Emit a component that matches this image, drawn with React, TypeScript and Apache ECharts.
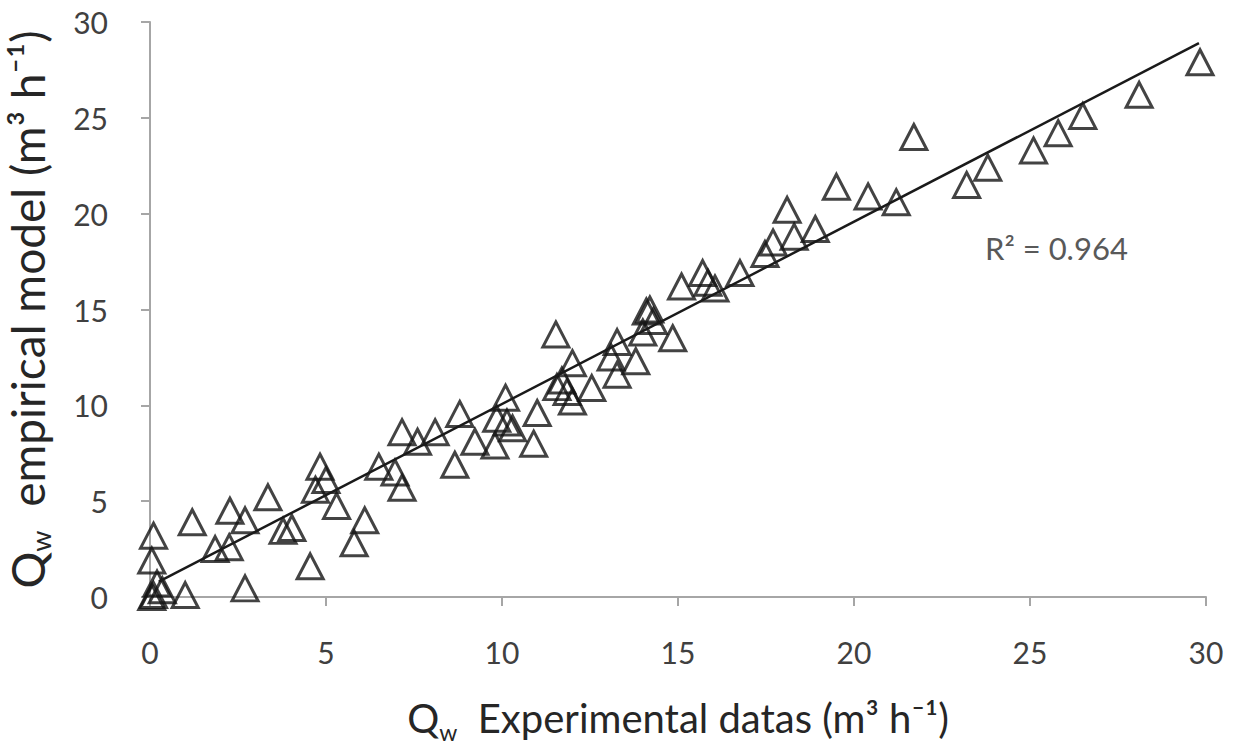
import React, { useEffect, useRef } from "react";
import * as echarts from "echarts";

// Experimental (x) vs empirical model (y), m3 h-1
const expValues: number[] = [
  0.05, 0.1, 0.2, 0.35, 0.05, 0.1, 1.0, 1.2, 1.85, 2.25, 2.27, 2.7, 2.7, 3.35, 3.78, 4.03,
  4.55, 4.83, 4.7, 5.0, 5.3, 5.8, 6.1, 6.5, 6.96, 7.16, 7.16, 7.6, 8.1, 8.8, 8.66, 9.23,
  9.8, 9.85, 10.1, 10.14, 10.3, 10.9, 11.0, 11.53, 11.56, 11.7, 11.85, 12.0, 12.0, 12.55,
  13.1, 13.27, 13.27, 13.8, 14.0, 14.1, 14.3, 14.2, 14.85, 15.1, 15.7, 15.85, 16.05, 16.76,
  17.47, 17.7, 18.1, 18.3, 18.9, 19.5, 20.4, 21.2, 21.7, 23.2, 23.8, 25.1, 25.8, 26.5,
  28.1, 29.83,
];
const modelValues: number[] = [
  0.0, 0.1, 0.7, 0.35, 1.9, 3.2, 0.1, 3.9, 2.5, 2.6, 4.5, 4.0, 0.45, 5.2, 3.45, 3.6,
  1.6, 6.8, 5.6, 6.1, 4.75, 2.8, 4.0, 6.8, 6.5, 5.7, 8.6, 8.1, 8.6, 9.55, 6.9, 8.1,
  7.9, 9.3, 10.4, 9.1, 8.8, 8.0, 9.6, 13.7, 10.95, 11.3, 10.7, 12.2, 10.2, 10.9,
  12.5, 11.6, 13.3, 12.3, 13.8, 14.9, 14.4, 15.0, 13.5, 16.2, 16.9, 16.4, 16.1, 16.9,
  17.9, 18.5, 20.2, 18.8, 19.2, 21.4, 20.9, 20.6, 24.0, 21.5, 22.4, 23.3, 24.2, 25.1,
  26.2, 27.9,
];
// Linear trendline end points
const trendX: number[] = [0.25, 29.8];
const trendY: number[] = [0.8, 28.9];
const rSquared = "0.964";
const axisTicks: number[] = [0, 5, 10, 15, 20, 25, 30];

const FONT = "Lato, 'Open Sans', sans-serif";

export default function App() {
  const ref = useRef<HTMLDivElement>(null);
  useEffect(() => {
    if (!ref.current) return;
    const chart = echarts.init(ref.current, undefined, { renderer: "svg" });
    const points = expValues.map((x, i) => [x, modelValues[i]]);
    const trend = trendX.map((x, i) => [x, trendY[i]]);
    const axisCommon = {
      type: "value" as const,
      min: axisTicks[0],
      max: axisTicks[axisTicks.length - 1],
      interval: 5,
      splitLine: { show: false },
      axisLine: { show: true, lineStyle: { color: "#a6a6a6", width: 2 } },
      axisTick: { show: true, length: 9, lineStyle: { color: "#a6a6a6", width: 2 } },
    };
    chart.setOption({
      animation: false,
      backgroundColor: "#ffffff",
      grid: {
        left: 150,
        right: 28,
        top: 22,
        bottom: 150,
        containLabel: false,
        outerBoundsMode: "none",
      },
      xAxis: {
        ...axisCommon,
        axisLabel: { color: "#404040", fontSize: 30, fontFamily: FONT, margin: 40 },
        name: "{m|Q}{s|w}{m|  Experimental datas (m³ h⁻¹)}",
        nameLocation: "middle",
        nameGap: 96,
        nameTextStyle: {
          rich: {
            m: { fontSize: 40, fontFamily: FONT, color: "#262626", lineHeight: 50, verticalAlign: "middle" },
            s: { fontSize: 23, fontFamily: FONT, color: "#262626", lineHeight: 23, verticalAlign: "bottom" },
          },
        },
      },
      yAxis: {
        ...axisCommon,
        axisLabel: { color: "#404040", fontSize: 30, fontFamily: FONT, margin: 42 },
        name: "{m|Q}{s|w}{m|  empirical model (m³ h⁻¹)}",
        nameLocation: "middle",
        nameGap: 96,
        nameRotate: 90,
        nameTextStyle: {
          rich: {
            m: { fontSize: 46, fontFamily: FONT, color: "#262626", lineHeight: 54, verticalAlign: "middle" },
            s: { fontSize: 27, fontFamily: FONT, color: "#262626", lineHeight: 27, verticalAlign: "bottom" },
          },
        },
      },
      graphic: [
        {
          type: "text",
          left: 985,
          top: 232,
          style: { text: `R² = ${rSquared}`, fontSize: 31, fontFamily: FONT, fill: "#595959" },
        },
      ],
      series: [
        {
          type: "line",
          data: trend,
          symbol: "none",
          lineStyle: { color: "#1a1a1a", width: 2.5 },
          z: 3,
        },
        {
          type: "scatter",
          data: points,
          symbol: "triangle",
          symbolSize: [26, 25],
          itemStyle: { color: "transparent", borderColor: "#141414", borderWidth: 3 },
          z: 2,
        },
      ],
    });
    return () => chart.dispose();
  }, []);
  return (
    <div
      ref={ref}
      style={{ position: "fixed", left: 0, top: 0, width: 1234, height: 747, background: "#fff" }}
    />
  );
}
